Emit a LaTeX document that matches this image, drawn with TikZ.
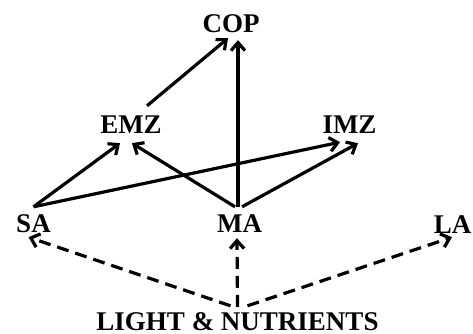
\documentclass[tikz,border=0pt]{standalone}
\usepackage{fontspec}
\setmainfont{Liberation Serif}
\usetikzlibrary{arrows.meta}
\begin{document}
\begin{tikzpicture}[x=1pt,y=1pt,
  lbl/.style={font=\fontsize{27}{30}\selectfont\bfseries, inner sep=0pt, text height=18pt, text depth=0pt, anchor=base},
  arr/.style={line width=3.2pt, -{Straight Barb[length=8pt,width=14pt,line width=3.2pt]}},
  darr/.style={arr, dash pattern=on 12pt off 7pt}]
\useasboundingbox (0,0) rectangle (473,-334);
\node[lbl] (COP) at (231,-33) {COP};
\node[lbl] (EMZ) at (131,-133) {EMZ};
\node[lbl] (IMZ) at (349.5,-133) {IMZ};
\node[lbl] (SA) at (33.5,-232) {SA};
\node[lbl] (MA) at (239.5,-232) {MA};
\node[lbl] (LA) at (452.5,-233) {LA};
\node[lbl] (LN) at (237.5,-330) {LIGHT \& NUTRIENTS};
\draw[arr] ([shift={(16,9)}]EMZ.north) -- ([shift={(-3,-5)}]COP.south);
\draw[arr] ([shift={(-1.5,7)}]MA.north) -- ([shift={(7,-7)}]COP.south);
\draw[arr] ([shift={(0,7)}]SA.north) -- ([shift={(-11,-10)}]EMZ.south);
\draw[arr] ([shift={(0,7)}]SA.north) -- ([shift={(-9.5,-9)}]IMZ.south);
\draw[arr] ([shift={(-4.5,7)}]MA.north) -- ([shift={(1,-10)}]EMZ.south);
\draw[arr] ([shift={(2.5,7)}]MA.north) -- ([shift={(8.5,-10)}]IMZ.south);
\draw[darr] ([shift={(-7,6)}]LN.north) -- ([shift={(-5,-5)}]SA.south);
\draw[darr] ([shift={(0,5)}]LN.north) -- ([shift={(-2.5,-6)}]MA.south);
\draw[darr] ([shift={(10,6)}]LN.north) -- ([shift={(-0.5,-4)}]LA.south);
\end{tikzpicture}
\end{document}
